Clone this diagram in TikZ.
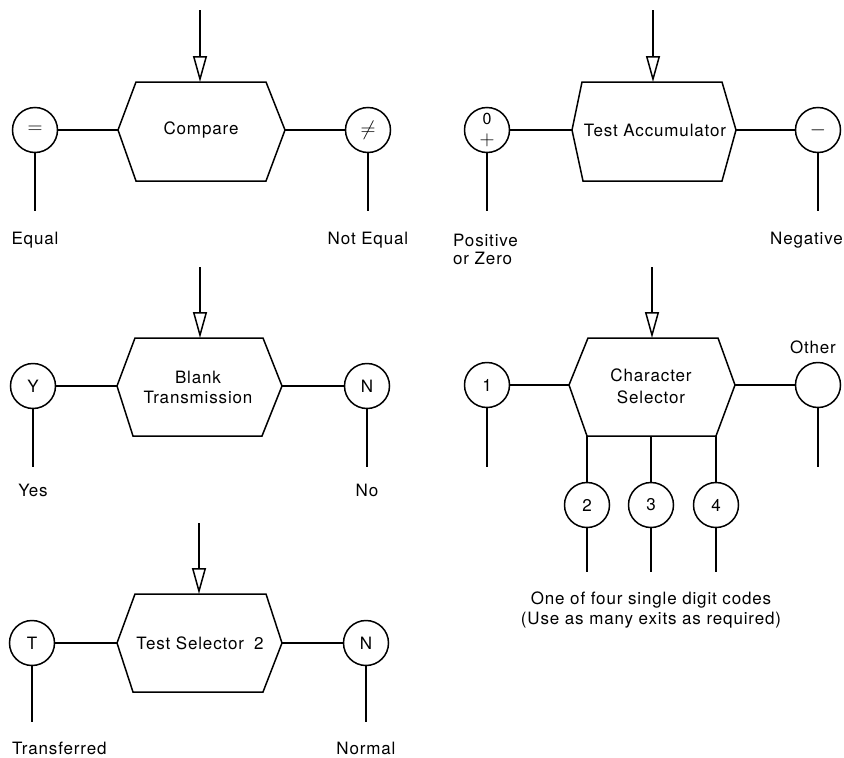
\documentclass[tikz,border=0pt]{standalone}
\usepackage{fontspec}
\setmainfont[LetterSpace=5]{TeX Gyre Heros}
\usetikzlibrary{arrows.meta}
\begin{document}
\begin{tikzpicture}[x=1pt,y=-1pt,
  every node/.style={font=\fontsize{17}{20}\selectfont},
  exitc/.style={draw, circle, minimum size=45pt, inner sep=0pt, line width=1.5pt},
  symb/.style={font=\fontsize{22}{22}\selectfont},
  ln/.style={line width=1.5pt},
  hex/.style={draw, line width=1.5pt, line join=miter},
  arr/.style={line width=1.5pt, -{Triangle[open, length=26pt, width=14pt, line width=1.5pt]}},
  lbl/.style={inner sep=0pt, align=center},
]
\useasboundingbox (0,0) rectangle (844,758);

% ===== Compare =====
\draw[hex] (136,82) -- (266,82) -- (285,130) coordinate (AR) -- (266,181) -- (136,181) -- (118,130) coordinate (AL) -- cycle;
\coordinate (Atop) at (200,82);
\coordinate (Ain) at (200,10);
\node (Atxt) at (201,130) {Compare};
\draw[arr] (Ain) -- (Atop);
\node[exitc, symb] (Aeq) at (35,130) {$=$};
\node[exitc, symb] (Ane) at (368,130) {$\neq$};
\draw[ln] (Aeq) -- (AL);
\draw[ln] (AR) -- (Ane);
\coordinate (Aeqend) at (35,211);
\coordinate (Aneend) at (368,211);
\draw[ln] (Aeq) -- (Aeqend);
\draw[ln] (Ane) -- (Aneend);
\node[lbl] (Aeqlbl) at (35,240) {Equal};
\node[lbl] (Anelbl) at (368,240) {Not Equal};

% ===== Test Accumulator =====
\draw[hex] (582,82) -- (722,82) -- (736,130) coordinate (BR) -- (722,181) -- (583,181) -- (572,130) coordinate (BL) -- cycle;
\coordinate (Btop) at (653,82);
\coordinate (Bin) at (653,10);
\node (Btxt) at (655,130) {Test Accumulator};
\draw[arr] (Bin) -- (Btop);
\node[exitc, align=center, font=\fontsize{16}{21}\selectfont] (Bpos) at (487,130) {0\\{\fontsize{22}{21}\selectfont$+$}};
\node[exitc, symb] (Bneg) at (818,130) {$-$};
\draw[ln] (Bpos.east) -- (BL);
\draw[ln] (BR) -- (Bneg);
\coordinate (Bposend) at (487,211);
\coordinate (Bnegend) at (818,211);
\draw[ln] (Bpos) -- (Bposend);
\draw[ln] (Bneg) -- (Bnegend);
\node[lbl, align=left, anchor=west, font=\fontsize{17}{18}\selectfont] (Bposlbl) at (453,249) {Positive\\or Zero};
\node[lbl, anchor=east] (Bneglbl) at (843,240) {Negative};

% ===== Blank Transmission =====
\draw[hex] (135,338) -- (263,338) -- (282,386) coordinate (CR) -- (262,436) -- (133,436) -- (117,386) coordinate (CL) -- cycle;
\coordinate (Ctop) at (200,338);
\coordinate (Cin) at (200,267);
\node[align=center] (Ctxt) at (198,387) {Blank\\Transmission};
\draw[arr] (Cin) -- (Ctop);
\node[exitc] (Cy) at (33,386) {Y};
\node[exitc] (Cn) at (367,386) {N};
\draw[ln] (Cy) -- (CL);
\draw[ln] (CR) -- (Cn);
\coordinate (Cyend) at (33,467);
\coordinate (Cnend) at (367,467);
\draw[ln] (Cy) -- (Cyend);
\draw[ln] (Cn) -- (Cnend);
\node[lbl] (Cylbl) at (33,490) {Yes};
\node[lbl] (Cnlbl) at (367,490) {No};

% ===== Character Selector =====
\draw[hex] (588,338) -- (718,338) -- (735,385) coordinate (DR) -- (716,436) -- (587,436) -- (569,385) coordinate (DL) -- cycle;
\coordinate (Dtop) at (652,338);
\coordinate (Din) at (652,267);
\node[align=center, font=\fontsize{17}{22}\selectfont] (Dtxt) at (651,386) {Character\\Selector};
\draw[arr] (Din) -- (Dtop);
\node[exitc] (D1) at (487,385) {1};
\node[exitc] (Dot) at (818,385) {};
\node[lbl] (Dotlbl) at (813,347) {Other};
\draw[ln] (D1) -- (DL);
\draw[ln] (DR) -- (Dot);
\coordinate (D1end) at (487,467);
\coordinate (Dotend) at (818,467);
\draw[ln] (D1) -- (D1end);
\draw[ln] (Dot) -- (Dotend);
\coordinate (Db2) at (587,436);
\coordinate (Db3) at (651,436);
\coordinate (Db4) at (716,436);
\node[exitc] (D2) at (587,505) {2};
\node[exitc] (D3) at (651,505) {3};
\node[exitc] (D4) at (716,505) {4};
\draw[ln] (Db2) -- (D2);
\draw[ln] (Db3) -- (D3);
\draw[ln] (Db4) -- (D4);
\coordinate (D2end) at (587,572);
\coordinate (D3end) at (651,572);
\coordinate (D4end) at (716,572);
\draw[ln] (D2) -- (D2end);
\draw[ln] (D3) -- (D3end);
\draw[ln] (D4) -- (D4end);
\node[lbl] (Dlbl) at (651,610) {One of four single digit codes\\(Use as many exits as required)};

% ===== Test Selector 2 =====
\draw[hex] (135,594) -- (266,594) -- (282,643) coordinate (ER) -- (263,692) -- (133,692) -- (117,643) coordinate (EL) -- cycle;
\coordinate (Etop) at (199,594);
\coordinate (Ein) at (199,523);
\node (Etxt) at (200,643) {Test Selector\hspace{0.6em}2};
\draw[arr] (Ein) -- (Etop);
\node[exitc] (Et) at (32,643) {T};
\node[exitc] (En) at (366,643) {N};
\draw[ln] (Et) -- (EL);
\draw[ln] (ER) -- (En);
\coordinate (Etend) at (32,722);
\coordinate (Enend) at (366,722);
\draw[ln] (Et) -- (Etend);
\draw[ln] (En) -- (Enend);
\node[lbl, anchor=west] (Etlbl) at (12,748) {Transferred};
\node[lbl] (Enlbl) at (366,748) {Normal};
\end{tikzpicture}
\end{document}
